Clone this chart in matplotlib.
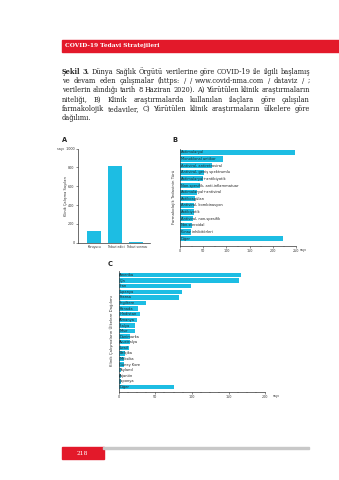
import matplotlib
matplotlib.use('Agg')
import matplotlib.pyplot as plt
from matplotlib.patches import Rectangle
from matplotlib.ticker import MultipleLocator

W, H = 339, 480
fig = plt.figure(figsize=(W / 100, H / 100), dpi=100)
fig.patch.set_facecolor('white')

CYAN = '#1dbde3'
RED = '#e3192a'
DARK = '#333333'

# ---------------- data ----------------
header_text = "COVID-19 Tedavi Stratejileri"
caption_lines = [
    "Şekil 3. Dünya Sağlık Örgütü verilerine göre COVID-19 ile ilgili başlamış",
    "ve devam eden çalışmalar (https: / / www.covid-nma.com / dataviz / ;",
    "verilerin alındığı tarih 8 Haziran 2020). A) Yürütülen klinik araştırmaların",
    "niteliği, B) Klinik araştırmalarda kullanılan ilaçlara göre çalışılan",
    "farmakolojik tedaviler, C) Yürütülen klinik araştırmaların ülkelere göre",
    "dağılımı.",
]
page_number = "218"

a_categories = ["Koruyucu", "Tedavi edici", "Tedavi sonrası"]
a_values = [125, 810, 4]
a_yticks = [0, 200, 400, 600, 800, 1000]
a_ylabel = "Klinik Çalışma Sayıları"

b_categories = [
    "Antimalaryal", "Monoklonal antikor", "Antiviral, antiretroviral",
    "Antiviral, geniş spektrumlu", "Antimalaryal+antibiyotik",
    "Non-spesifik, anti-inflammatuar", "Antimalaryal+antiviral",
    "Antikoagülan", "Antiviral, kombinasyon", "Antibiyotik",
    "Antiviral, non-spesifik", "Non-steroidal", "Kinaz inhibitörleri", "Diğer",
]
b_values = [247, 93, 70, 52, 50, 43, 37, 32, 31, 30, 28, 25, 23, 221]
b_xticks = [0, 50, 100, 150, 200, 250]
b_ylabel = "Farmakolojik Tedavinin Türü"

c_countries = [
    "Amerika", "Çin", "İran", "İspanya", "Fransa", "İngiltere", "Kanada",
    "Hindistan", "Almanya", "İtalya", "Mısır", "Danimarka", "Avustralya",
    "İsrail", "Belçika", "Meksika", "Güney Kore", "Tayland", "Arjantin",
    "Japonya", "Diğer",
]
c_values = [167, 164, 99, 86, 83, 38, 27, 29, 25, 22, 22, 16, 15, 14, 9, 8, 7, 4, 4, 4, 76]
c_xticks = [0, 50, 100, 150, 200]
c_ylabel = "Klinik Çalışmaların Ülkelere Dağılımı"


def rect(x0, y0, x1, y1):
    return [x0 / W, 1 - y1 / H, (x1 - x0) / W, (y1 - y0) / H]


def fx(x):
    return x / W


def fy(y):
    return 1 - y / H


# ---------------- header ----------------
fig.patches.append(Rectangle((fx(62), fy(52)), fx(339) - fx(62), fy(40) - fy(52),
                             transform=fig.transFigure, color=RED, zorder=0))
fig.text(fx(65), fy(46), header_text, color='white', fontsize=4.2, fontweight='bold',
         family='DejaVu Serif', va='center', ha='left')

# ---------------- caption (justified) ----------------
renderer = fig.canvas.get_renderer()
cap_x0, cap_x1 = 62, 310
cap_y0, cap_dy = 71.7, 9.3
CAP_FAMILY = 'DejaVu Serif'
MIN_GAP = 1.6

t = fig.text(0, 0, caption_lines[0], fontsize=10, family=CAP_FAMILY)
base_w = t.get_window_extent(renderer).width
t.remove()
cap_fs_base = 10 * (cap_x1 - cap_x0) / base_w * 0.99

for li, line in enumerate(caption_lines):
    y = fy(cap_y0 + li * cap_dy)
    words = line.split(' ')
    fs = cap_fs_base
    while True:
        arts, widths = [], []
        for wi, w in enumerate(words):
            weight = 'bold' if (li == 0 and wi < 2) else 'normal'
            tt = fig.text(0, y, w, fontsize=fs, family=CAP_FAMILY, va='center',
                          ha='left', color='#222222', fontweight=weight)
            arts.append(tt)
            widths.append(tt.get_window_extent(renderer).width)
        total = sum(widths)
        if len(words) == 1 or li == len(caption_lines) - 1:
            gap = MIN_GAP * 1.4
            break
        gap = ((cap_x1 - cap_x0) - total) / (len(words) - 1)
        if gap >= MIN_GAP:
            break
        for a in arts:
            a.remove()
        fs *= 0.98
    x = cap_x0
    for tt, wd in zip(arts, widths):
        tt.set_x(fx(x))
        x += wd + gap


def style_axes(ax):
    for s in ['top', 'right']:
        ax.spines[s].set_visible(False)
    for s in ['left', 'bottom']:
        ax.spines[s].set_linewidth(0.5)
        ax.spines[s].set_color(DARK)
    ax.tick_params(length=1.5, width=0.4, labelsize=2.4, pad=1, colors=DARK)
    ax.tick_params(which='minor', length=1.0, width=0.3, colors=DARK)
    ax.set_facecolor('none')


# ---------------- panel letters ----------------
for lab, (x, y) in {"A": (62, 139.5), "B": (172, 139.5), "C": (108, 264.5)}.items():
    fig.text(fx(x), fy(y), lab, fontsize=4.8, fontweight='bold', va='center', ha='left',
             color='#222222')

# ---------------- panel A ----------------
axA = fig.add_axes(rect(78, 148.5, 150, 242.7))
style_axes(axA)
axA.bar(range(len(a_categories)), a_values, width=0.67, color=CYAN)
axA.set_xlim(-0.78, 2.65)
axA.set_ylim(0, 1000)
axA.set_yticks(a_yticks)
axA.set_yticklabels([str(v) if v != 1000 else "sayı  1000" for v in a_yticks])
axA.set_xticks(range(len(a_categories)))
axA.set_xticklabels(a_categories, fontsize=2.2)
axA.tick_params(axis='x', length=0, pad=1.5)
fig.text(fx(66.5), fy(196), a_ylabel, rotation=90, fontsize=2.6, va='center', ha='center',
         color=DARK)

# ---------------- panel B ----------------
axB = fig.add_axes(rect(180, 149, 296, 245.7))
style_axes(axB)
nb = len(b_categories)
axB.barh(range(nb), b_values, height=0.78, color=CYAN)
axB.set_xlim(0, 250)
axB.set_ylim(nb + 0.07, -0.5)
axB.set_yticks([])
axB.set_xticks(b_xticks)
axB.xaxis.set_minor_locator(MultipleLocator(25))
for i, lab in enumerate(b_categories):
    axB.text(1.5, i, lab, fontsize=2.6, va='center', ha='left', color='#222222')
fig.text(fx(300), fy(250.5), "sayı", fontsize=2.4, va='center', ha='left', color=DARK)
fig.text(fx(174), fy(197), b_ylabel, rotation=90, fontsize=2.8, va='center', ha='center',
         color=DARK)

# ---------------- panel C ----------------
axC = fig.add_axes(rect(118.5, 270.7, 265.3, 392))
style_axes(axC)
nc = len(c_countries)
axC.barh(range(nc), c_values, height=0.8, color=CYAN)
axC.set_xlim(0, 200)
axC.set_ylim(nc - 0.1, -0.77)
axC.set_yticks([])
axC.set_xticks(c_xticks)
axC.xaxis.set_minor_locator(MultipleLocator(12.5))
for i, lab in enumerate(c_countries):
    axC.text(1.2, i, lab, fontsize=2.6, va='center', ha='left', color='#222222')
fig.text(fx(273), fy(396), "sayı", fontsize=2.4, va='center', ha='left', color=DARK)
fig.text(fx(111.5), fy(331), c_ylabel, rotation=90, fontsize=2.8, va='center', ha='center',
         color=DARK)

# ---------------- footer ----------------
fig.patches.append(Rectangle((fx(62), fy(459.3)), fx(103.5) - fx(62), fy(447.3) - fy(459.3),
                             transform=fig.transFigure, color=RED, zorder=0))
fig.patches.append(Rectangle((fx(103.5), fy(449)), fx(309) - fx(103.5), fy(447.3) - fy(449),
                             transform=fig.transFigure, color='#c8c8c8', zorder=0))
fig.text(fx(82.8), fy(453.5), page_number, color='white', fontsize=4.3, family='DejaVu Serif',
         va='center', ha='center')

fig.savefig('out.png', dpi=100, facecolor='white')
